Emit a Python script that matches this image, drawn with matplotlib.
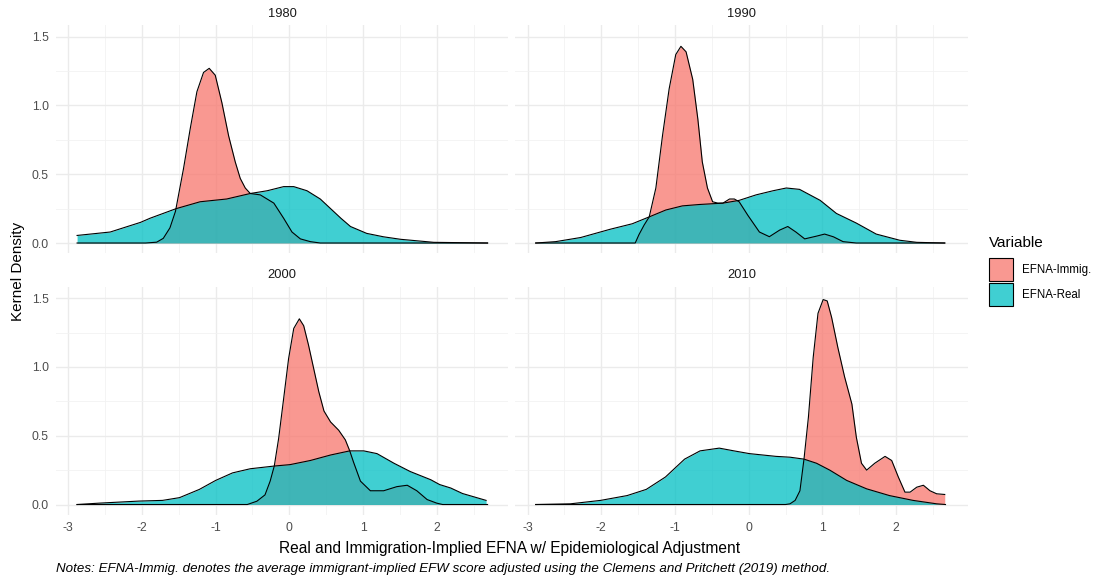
import matplotlib
matplotlib.use("Agg")
import matplotlib.pyplot as plt
from matplotlib.patches import Rectangle

plt.rcParams['font.family'] = ['Liberation Sans', 'DejaVu Sans']
plt.rcParams['axes.unicode_minus'] = False

years = ["1980", "1990", "2000", "2010"]
series = ["EFNA-Immig.", "EFNA-Real"]
colors = ["#F8766D", "#00BFC4"]
x_ticks = [-3, -2, -1, 0, 1, 2]
y_ticks = [0.0, 0.5, 1.0, 1.5]
y_tick_labels = ["0.0", "0.5", "1.0", "1.5"]

# density curves
x_1980_immig = [-2.88, -1.95, -1.80, -1.71, -1.62, -1.545, -1.436, -1.345, -1.254, -1.164, -1.087,
                -1.005, -0.915, -0.824, -0.734, -0.666, -0.598, -0.53, -0.394, -0.21, -0.077,
                0.036, 0.15, 0.285, 0.42, 2.69]
y_1980_immig = [0, 0, 0.006, 0.034, 0.11, 0.23, 0.54, 0.83, 1.10, 1.24, 1.27,
                1.22, 1.02, 0.78, 0.59, 0.47, 0.40, 0.36, 0.35, 0.29, 0.18,
                0.08, 0.03, 0.01, 0, 0]
x_1980_real = [-2.88, -2.43, -2.02, -1.89, -1.535, -1.21, -0.85, -0.53, -0.30, -0.077, 0.06,
               0.24, 0.42, 0.56, 0.70, 0.83, 1.05, 1.28, 1.51, 1.96, 2.41, 2.69]
y_1980_real = [0.055, 0.08, 0.15, 0.18, 0.25, 0.30, 0.32, 0.36, 0.38, 0.41, 0.41,
               0.38, 0.32, 0.25, 0.18, 0.12, 0.07, 0.045, 0.027, 0.005, 0.002, 0]

x_1990_immig = [-2.89, -1.54, -1.49, -1.42, -1.35, -1.26, -1.17, -1.08, -0.99, -0.92, -0.85,
                -0.76, -0.69, -0.63, -0.56, -0.49, -0.42, -0.35, -0.26, -0.195, -0.13, -0.01,
                0.145, 0.28, 0.42, 0.53, 0.64, 0.76, 0.92, 1.03, 1.15, 1.28, 1.46, 2.66]
y_1990_immig = [0, 0, 0.06, 0.13, 0.19, 0.40, 0.78, 1.12, 1.37, 1.43, 1.39,
                1.19, 0.90, 0.59, 0.40, 0.30, 0.29, 0.29, 0.32, 0.32, 0.30, 0.20,
                0.08, 0.046, 0.094, 0.12, 0.08, 0.03, 0.05, 0.065, 0.045, 0.01, 0, 0]
x_1990_real = [-2.89, -2.62, -2.28, -1.88, -1.58, -1.35, -1.125, -0.90, -0.67, -0.35, -0.13,
               0.10, 0.33, 0.51, 0.69, 0.97, 1.19, 1.46, 1.73, 2.05, 2.28, 2.66]
y_1990_real = [0, 0.01, 0.04, 0.10, 0.14, 0.19, 0.24, 0.27, 0.28, 0.29, 0.31,
               0.35, 0.38, 0.40, 0.39, 0.31, 0.215, 0.145, 0.065, 0.02, 0.005, 0]

x_2000_immig = [-2.88, -0.57, -0.44, -0.33, -0.26, -0.204, -0.145, -0.077, -0.01, 0.06, 0.136,
                0.195, 0.26, 0.33, 0.40, 0.47, 0.56, 0.67, 0.76, 0.82, 0.87, 0.965, 1.10,
                1.28, 1.46, 1.60, 1.73, 1.87, 2.0, 2.08, 2.69]
y_2000_immig = [0, 0, 0.024, 0.07, 0.17, 0.28, 0.48, 0.77, 1.06, 1.28, 1.35,
                1.30, 1.16, 0.99, 0.82, 0.68, 0.60, 0.54, 0.47, 0.39, 0.31, 0.17, 0.10,
                0.10, 0.13, 0.14, 0.10, 0.036, 0.01, 0, 0]
x_2000_real = [-2.88, -2.58, -2.04, -1.72, -1.49, -1.22, -1.0, -0.77, -0.53, -0.20, 0.01,
               0.285, 0.56, 0.82, 1.01, 1.19, 1.42, 1.64, 1.92, 2.04, 2.19, 2.35, 2.67]
y_2000_real = [0, 0.01, 0.025, 0.03, 0.05, 0.11, 0.175, 0.23, 0.26, 0.28, 0.29,
               0.32, 0.36, 0.39, 0.39, 0.37, 0.30, 0.24, 0.18, 0.145, 0.12, 0.08, 0.03]

x_2010_immig = [-2.89, 0.50, 0.56, 0.63, 0.695, 0.75, 0.81, 0.875, 0.94, 1.01, 1.065, 1.125,
                1.21, 1.30, 1.40, 1.46, 1.53, 1.60, 1.71, 1.85, 1.94, 2.03, 2.12, 2.19,
                2.28, 2.37, 2.46, 2.55, 2.66]
y_2010_immig = [0, 0, 0.005, 0.03, 0.10, 0.33, 0.635, 1.07, 1.39, 1.49, 1.48, 1.36,
                1.14, 0.93, 0.73, 0.49, 0.30, 0.25, 0.30, 0.35, 0.32, 0.20, 0.09, 0.09,
                0.126, 0.14, 0.10, 0.078, 0.073]
x_2010_real = [-2.89, -2.42, -2.01, -1.65, -1.39, -1.13, -0.87, -0.66, -0.40, -0.20, 0.01,
               0.37, 0.56, 0.75, 0.92, 1.10, 1.33, 1.60, 1.91, 2.23, 2.55, 2.67]
y_2010_real = [0, 0.005, 0.03, 0.065, 0.11, 0.20, 0.33, 0.39, 0.41, 0.39, 0.37,
               0.35, 0.344, 0.33, 0.30, 0.25, 0.175, 0.114, 0.065, 0.03, 0.005, 0]

curves = {
    "1980": [(x_1980_immig, y_1980_immig), (x_1980_real, y_1980_real)],
    "1990": [(x_1990_immig, y_1990_immig), (x_1990_real, y_1990_real)],
    "2000": [(x_2000_immig, y_2000_immig), (x_2000_real, y_2000_real)],
    "2010": [(x_2010_immig, y_2010_immig), (x_2010_real, y_2010_real)],
}


def main():
    W, H = 1101, 579
    fig = plt.figure(figsize=(W / 100, H / 100), dpi=100)

    def px(x0, y0, x1, y1):
        return [x0 / W, 1 - y1 / H, (x1 - x0) / W, (y1 - y0) / H]

    boxes = [px(55.7, 25, 508.2, 253.4), px(515.1, 25, 967.6, 253.4),
             px(55.7, 286.5, 508.2, 514.9), px(515.1, 286.5, 967.6, 514.9)]
    grey = "#4D4D4D"

    for i, yr in enumerate(years):
        ax = fig.add_axes(boxes[i])
        for (xs, ys), c in zip(curves[yr], colors):
            ax.fill_between(xs, ys, 0, color=c, alpha=0.75, lw=0)
            ax.plot(xs, ys, color="black", lw=0.8, solid_joinstyle="round")
        ax.set_xlim(-3.17, 2.97)
        ax.set_ylim(-0.0755, 1.585)
        ax.set_xticks(x_ticks)
        ax.set_xticks([-2.5, -1.5, -0.5, 0.5, 1.5, 2.5], minor=True)
        ax.set_yticks(y_ticks)
        ax.set_yticks([0.25, 0.75, 1.25], minor=True)
        ax.grid(which="major", color="#EBEBEB", lw=1.0)
        ax.grid(which="minor", color="#F2F2F2", lw=0.6)
        ax.set_axisbelow(True)
        for s in ax.spines.values():
            s.set_visible(False)
        ax.tick_params(which="both", length=0, labelsize=8.8, labelcolor=grey, pad=5)
        if i % 2 == 1:
            ax.set_yticklabels([])
        else:
            ax.set_yticklabels(y_tick_labels)
        if i < 2:
            ax.set_xticklabels([])
        ax.set_title(yr, fontsize=9.3, color="#1A1A1A", pad=6)

    fig.text(18 / W, 1 - 271 / H, "Kernel Density", rotation=90, ha="center", va="center",
             fontsize=11)
    fig.text(510 / W, 1 - 548 / H, "Real and Immigration-Implied EFNA w/ Epidemiological Adjustment",
             ha="center", va="center", fontsize=11.2)
    fig.text(56 / W, 1 - 569 / H,
             "Notes: EFNA-Immig. denotes the average immigrant-implied EFW score adjusted using the Clemens and Pritchett (2019) method.",
             ha="left", va="center", fontsize=9.6, style="italic")

    # legend
    fig.text(989 / W, 1 - 243 / H, "Variable", ha="left", va="center", fontsize=11)
    for k, (lab, c) in enumerate(zip(series, colors)):
        top = 258 + k * 25
        fig.add_artist(Rectangle((989 / W, 1 - (top + 23) / H), 24 / W, 23 / H,
                                 transform=fig.transFigure, facecolor=c, alpha=0.75,
                                 edgecolor="none"))
        fig.add_artist(Rectangle((989 / W, 1 - (top + 23) / H), 24 / W, 23 / H,
                                 transform=fig.transFigure, facecolor="none",
                                 edgecolor="black", lw=0.8))
        fig.text(1022 / W, 1 - (top + 11.5) / H, lab, ha="left", va="center", fontsize=8.3)

    fig.savefig("out.png", dpi=100)


if __name__ == "__main__":
    main()
